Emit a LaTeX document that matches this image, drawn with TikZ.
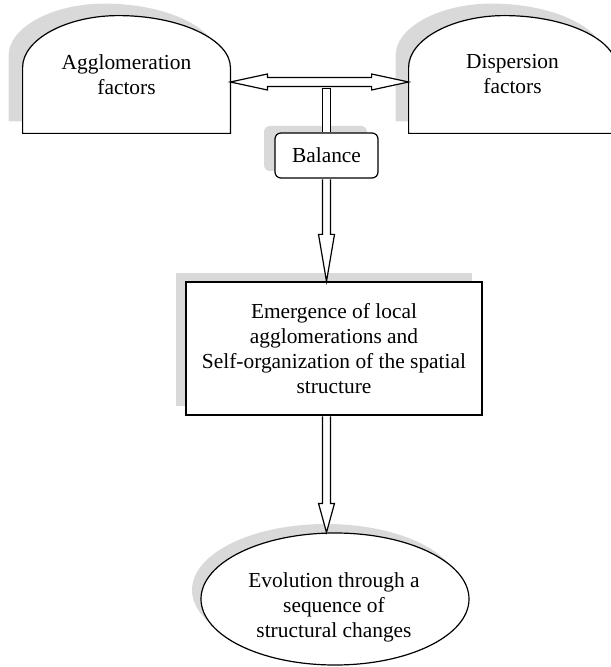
\documentclass[tikz,border=0pt]{standalone}
\usepackage{fontspec}
\setmainfont{Liberation Serif}
\usetikzlibrary{calc,shapes.geometric,shadows,backgrounds}
\definecolor{shadowgray}{gray}{0.85}

% dome outline built on a rectangular node: #1 style, #2 node, #3/#4 offset
\newcommand\domepath[4]{%
  \path[#1] ($(#2.south west)+(#3,#4)$) -- ++(0,-66)
    .. controls +(0,-28) and +(-52,0) .. ($(#2.north)+(-8,0)+(#3,#4)$)
    .. controls +(61,0) and +(0,-28) .. ($(#2.south east)+(0,-66)+(#3,#4)$)
    -- ($(#2.south east)+(#3,#4)$) -- cycle;}

% hollow downward arrow: #1 start, #2 tip, #3 head length
\newcommand\hollowdown[3]{%
  \path[hollow] ($(#1)+(-4,0.8)$) -- ($(#2)+(-4,-#3)$) -- ($(#2)+(-8,-#3)$) -- (#2)
    -- ($(#2)+(8,-#3)$) -- ($(#2)+(4,-#3)$) -- ($(#1)+(4,0.8)$);}

\begin{document}
\begin{tikzpicture}[x=0.5pt,y=-0.5pt,
  every node/.style={font=\fontsize{10.7pt}{12.5pt}\selectfont, align=center},
  lineart/.style={draw=black, line width=0.6pt},
  shadowfill/.style={fill=shadowgray},
  hollow/.style={lineart, fill=white, line join=miter},
  domebox/.style={minimum width=103.5pt, minimum height=58.5pt, inner sep=0pt},
  boxshadow/.style 2 args={drop shadow={shadow xshift=#1, shadow yshift=#2,
      fill=shadowgray, opacity=1}}]
\useasboundingbox (0,0) rectangle (610,667);
\clip (0,0) rectangle (610,667);

% the two factor domes
\node[domebox] (agg) at (126.5,74.5) {Agglomeration\\factors};
\node[domebox] (disp) at (512.5,74.5) {Dispersion\\factors};
\begin{scope}[on background layer]
  \domepath{shadowfill}{agg}{-14}{-12}
  \domepath{lineart, fill=white}{agg}{0}{0}
  \domepath{shadowfill}{disp}{-13}{-12}
  \domepath{lineart, fill=white}{disp}{0}{0}
\end{scope}

% balance, outcome and evolution
\node[lineart, fill=white, rounded corners=3pt, minimum width=51.5pt,
  minimum height=22.5pt, inner sep=0pt, boxshadow={-5.5pt}{3.5pt}]
  (bal) at (326.5,155.5) {Balance};
\node[lineart, fill=white, minimum width=148pt, minimum height=66.5pt,
  inner sep=0pt, boxshadow={-5pt}{4.5pt}]
  (mid) at (334,348.5)
  {Emergence of local\\agglomerations and\\Self-organization of the spatial\\structure};
\node[lineart, fill=white, ellipse, minimum width=134pt, minimum height=66pt,
  inner sep=0pt, boxshadow={-4.5pt}{4.5pt}] (evo) at (335,599) {};
\node (evotext) at (334,607) {Evolution through a\\sequence of\\structural changes};

% double arrow between the domes
\coordinate (hy) at (0,82);
\coordinate (hl) at (agg.east |- hy);
\coordinate (hr) at (disp.west |- hy);
\path[hollow] (hl) -- ($(hl)+(37,-8)$) -- ($(hl)+(37,-4.5)$) -- ($(hr)+(-37,-4.5)$)
  -- ($(hr)+(-37,-8)$) -- (hr) -- ($(hr)+(-37,8)$) -- ($(hr)+(-37,4.5)$)
  -- ($(hl)+(37,4.5)$) -- ($(hl)+(37,8)$) -- cycle;

% stem from the double arrow into the balance box
\coordinate (hsplit) at ($(bal.north)+(0,-44)$);
\path[hollow] ($(bal.north)+(-4,-0.8)$) -- ($(hsplit)+(-4,0)$)
  -- ($(hsplit)+(4,0)$) -- ($(bal.north)+(4,-0.8)$);

% downward arrows
\coordinate (t1) at (bal.south |- mid.north);
\coordinate (s2) at (bal.south |- mid.south);
\coordinate (t2) at (bal.south |- evo.north);
\hollowdown{bal.south}{t1}{47}
\hollowdown{s2}{t2}{29}
\end{tikzpicture}
\end{document}
